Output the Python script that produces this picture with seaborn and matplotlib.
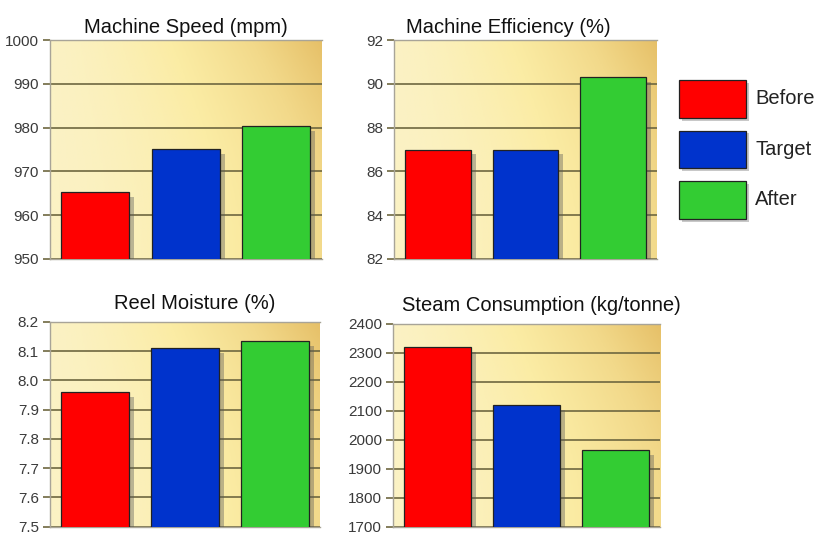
import matplotlib

matplotlib.use("Agg")
import matplotlib.patheffects as pe
import matplotlib.pyplot as plt
import numpy as np
import pandas as pd
import seaborn as sns
from matplotlib.colors import LinearSegmentedColormap
from matplotlib.patches import Rectangle

sns.set_style("white")
plt.rcParams["font.family"] = ["Liberation Sans", "DejaVu Sans"]

# data
stages = ["Before", "Target", "After"]
speed = [965.2, 975.2, 980.3]
efficiency = [87.0, 87.0, 90.3]
moisture = [7.96, 8.11, 8.135]
steam = [2320, 2120, 1965]

titles = ["Machine Speed (mpm)", "Machine Efficiency (%)", "Reel Moisture (%)", "Steam Consumption (kg/tonne)"]
y_ranges = [(950, 1000), (82, 92), (7.5, 8.2), (1700, 2400)]
y_ticks = [
    [950, 960, 970, 980, 990, 1000],
    [82, 84, 86, 88, 90, 92],
    [7.5, 7.6, 7.7, 7.8, 7.9, 8.0, 8.1, 8.2],
    [1700, 1800, 1900, 2000, 2100, 2200, 2300, 2400],
]
tick_fmt = ["{:.0f}", "{:.0f}", "{:.1f}", "{:.0f}"]

colors = {"Before": "#ff0000", "Target": "#0033cc", "After": "#33cc33"}

# axes positions in figure fraction [left, bottom, width, height], plus title x and pad
positions = [
    [0.0608, 0.515, 0.330, 0.410],
    [0.4790, 0.515, 0.319, 0.410],
    [0.0608, 0.0135, 0.328, 0.384],
    [0.4775, 0.0135, 0.325, 0.380],
]
title_x = [0.50, 0.435, 0.537, 0.554]
title_pad = [5, 5, 9, 9]

bg_cmap = LinearSegmentedColormap.from_list("gold", ["#fbf2c4", "#fbeca4", "#f2d98a", "#e6c068"])
shadow = [pe.SimplePatchShadow(offset=(3.5, -3.5), shadow_rgbFace="#5a5a5a", alpha=0.4), pe.Normal()]


def gold_background(ax):
    gx, gy = np.meshgrid(np.linspace(0, 1, 200), np.linspace(0, 1, 100))
    shade = np.clip(0.65 * gx ** 1.6 + 0.35 * gy ** 2 * gx, 0, 1)
    ax.imshow(shade, cmap=bg_cmap, extent=[0, 1, 0, 1], transform=ax.transAxes,
              aspect="auto", zorder=0, vmin=0, vmax=1, origin="lower")


fig = plt.figure(figsize=(8.23, 5.34), dpi=100)
for values, title, yr, yt, fmt, pos, tx, tp in zip([speed, efficiency, moisture, steam], titles, y_ranges,
                                                    y_ticks, tick_fmt, positions, title_x, title_pad):
    ax = fig.add_axes(pos)
    gold_background(ax)
    df = pd.DataFrame({"stage": stages, "value": values})
    sns.barplot(data=df, x="stage", y="value", hue="stage", palette=colors, width=0.75, saturation=1,
                edgecolor="#222222", linewidth=0.9, ax=ax, legend=False, zorder=3)
    for bar in ax.patches:
        bar.set_path_effects(shadow)
    ax.set_ylim(*yr)
    ax.set_xlim(-0.5, 2.5)
    ax.set_yticks(yt)
    ax.set_yticklabels([fmt.format(t) for t in yt])
    ax.yaxis.grid(True, color="#6e6740", linewidth=1.2, zorder=1)
    ax.set_axisbelow(True)
    ax.set_xticks([0.5, 1.5])
    ax.set_xticklabels([])
    ax.tick_params(axis="x", direction="in", length=4, color="#777766", width=0.8)
    ax.tick_params(axis="y", left=True, direction="out", length=5, color="#6e6740", width=1.2,
                   labelsize=11, labelcolor="#3a3a3a", pad=3)
    ax.set_xlabel("")
    ax.set_ylabel("")
    for side in ["top", "right", "bottom", "left"]:
        ax.spines[side].set_color("#a8a498")
        ax.spines[side].set_linewidth(1.0)
    ax.spines["right"].set_visible(False)
    ax.set_title(title, fontsize=14.5, color="#111111", x=tx, pad=tp)

# legend as boxes on the right
leg_ax = fig.add_axes([0.81, 0.569, 0.19, 0.30])
leg_ax.set_axis_off()
leg_ax.set_xlim(0, 1)
leg_ax.set_ylim(0, 1)
for i, stage in enumerate(stages):
    y0 = 0.70 - i * 0.315
    box = Rectangle((0.08, y0), 0.43, 0.237, facecolor=colors[stage], edgecolor="#222222", linewidth=0.9)
    box.set_path_effects([pe.SimplePatchShadow(offset=(2, -2), shadow_rgbFace="#777777", alpha=0.4), pe.Normal()])
    leg_ax.add_patch(box)
    leg_ax.text(0.566, y0 + 0.12, stage, fontsize=14.5, color="#222222", va="center", ha="left")

fig.savefig("out.png", dpi=100)
